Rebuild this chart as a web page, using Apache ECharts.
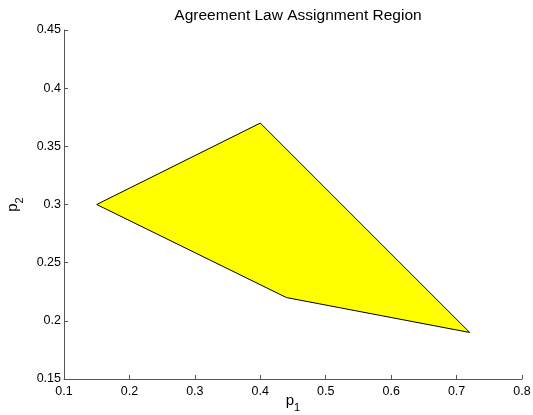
<!DOCTYPE html>
<html><head><meta charset="utf-8">
<script src="https://cdn.jsdelivr.net/npm/echarts@6/dist/echarts.min.js"></script>
<style>html,body{margin:0;padding:0;background:#fff}#c{width:533px;height:415px}</style>
</head><body><div id="c"></div>
<script>
var titleText = 'Agreement Law Assignment Region';
var regionP1 = [0.15, 0.40, 0.72, 0.44];
var regionP2 = [0.30, 0.37, 0.19, 0.22];
var xTicks = [0.1, 0.2, 0.3, 0.4, 0.5, 0.6, 0.7, 0.8];
var yTicks = [0.15, 0.2, 0.25, 0.3, 0.35, 0.4, 0.45];

var chart = echarts.init(document.getElementById('c'));
var font = 'Liberation Sans, Arial, Helvetica, sans-serif';
var axisCol = '#555';
var nameRich = {
  a: {fontFamily: font, fontSize: 15, color: '#000', verticalAlign: 'bottom'},
  b: {fontFamily: font, fontSize: 11, color: '#000', verticalAlign: 'bottom', padding: [0,0,-5,0]}
};
chart.setOption({
  animation: false,
  title: {text: titleText, left: 293, textAlign: 'center', top: 3,
    textStyle: {fontFamily: font, fontSize: 15.5, fontWeight: 'normal', color: '#000'}},
  grid: {left: 64, right: 11, top: 30, bottom: 36, containLabel: false, outerBoundsMode: 'none'},
  xAxis: {type: 'value', min: xTicks[0], max: xTicks[xTicks.length-1], interval: 0.1,
    axisLine: {lineStyle: {color: axisCol, width: 1}},
    axisTick: {inside: true, length: 4, lineStyle: {color: axisCol}},
    splitLine: {show: false},
    axisLabel: {margin: 6, fontFamily: font, fontSize: 12.5, color: '#000',
      formatter: function(v){ return String(+v.toFixed(2)); }},
    name: '{a|p}{b|1}', nameLocation: 'middle', nameGap: 14, nameMoveOverlap: false,
    nameTextStyle: {rich: nameRich}
  },
  yAxis: {type: 'value', min: yTicks[0], max: yTicks[yTicks.length-1], interval: 0.05,
    axisLine: {show: true, lineStyle: {color: axisCol, width: 1}},
    axisTick: {show: true, inside: true, length: 4, lineStyle: {color: axisCol}},
    splitLine: {show: false},
    axisLabel: {margin: 3, fontFamily: font, fontSize: 12.5, color: '#000',
      formatter: function(v){ return String(+v.toFixed(2)); }},
    name: '{a|p}{b|2}', nameLocation: 'middle', nameGap: 44, nameRotate: 90, nameMoveOverlap: false,
    nameTextStyle: {rich: nameRich}
  },
  series: [{
    type: 'custom',
    coordinateSystem: 'cartesian2d',
    data: [[0]],
    renderItem: function(params, api) {
      var pts = regionP1.map(function(x, i){ return api.coord([x, regionP2[i]]); });
      return {type: 'polygon', shape: {points: pts},
        style: {fill: '#ffff00', stroke: '#000', lineWidth: 1}};
    }
  }]
});
</script></body></html>
